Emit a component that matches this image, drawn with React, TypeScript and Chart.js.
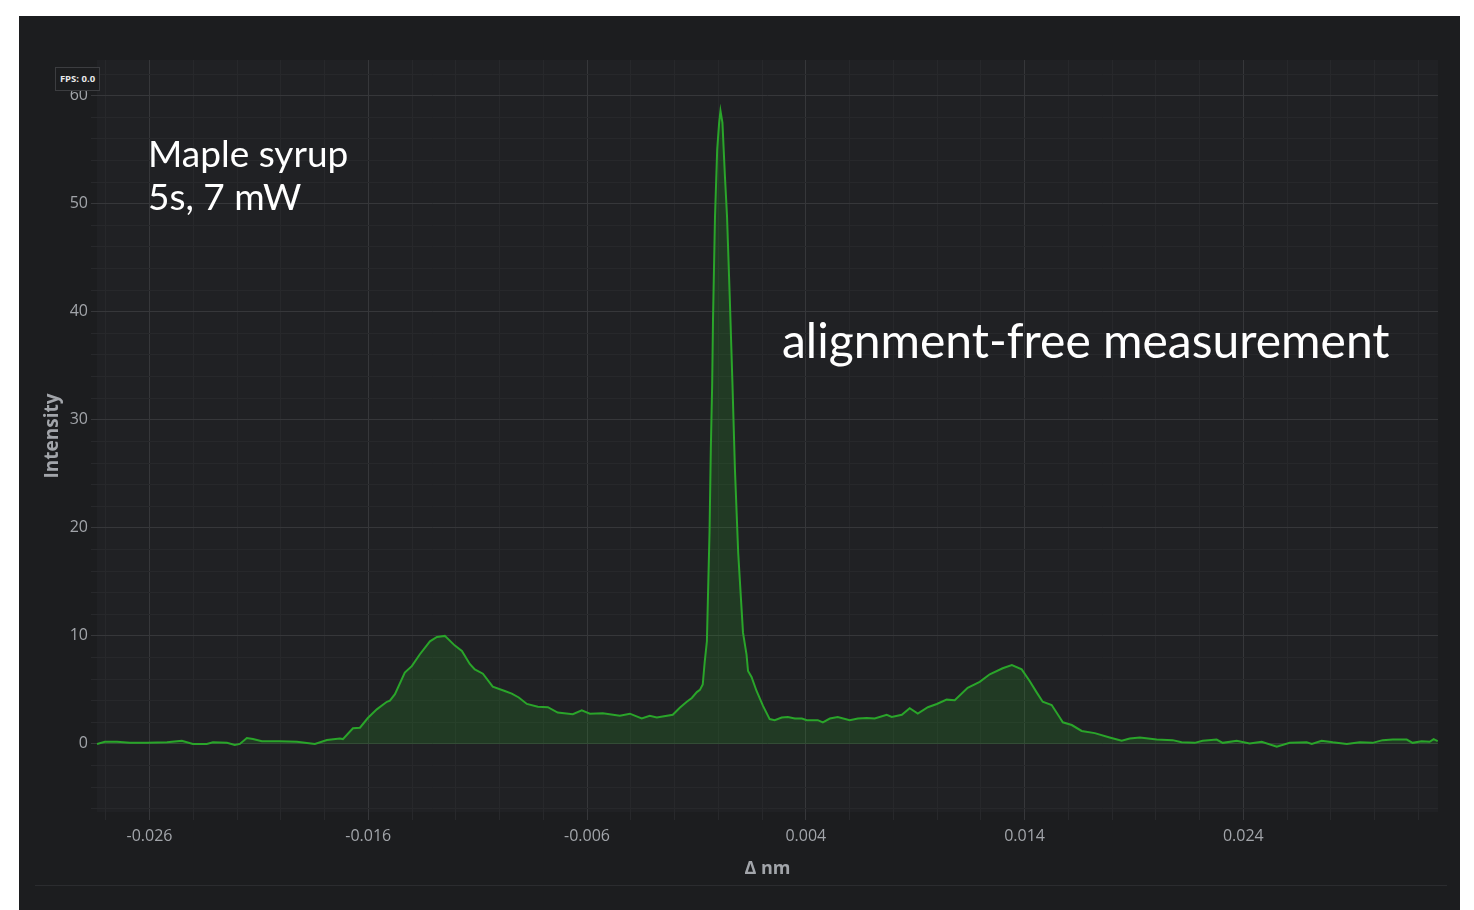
import React, { useEffect, useRef } from "react";
import { Chart, registerables } from "chart.js";

Chart.register(...registerables);

// Δ nm positions of the sampled spectrum
const deltaNm: number[] = [
  -0.0284, -0.02804, -0.02749, -0.0269, -0.02612, -0.0252, -0.02452, -0.02402, -0.02338, -0.0231,
  -0.02246, -0.0221, -0.02187, -0.02155, -0.02127, -0.02086, -0.02004, -0.01926, -0.01844, -0.01789,
  -0.0173, -0.01716, -0.0167, -0.01638, -0.01602, -0.01561, -0.01515, -0.01501, -0.01478, -0.01433,
  -0.01401, -0.01364, -0.01318, -0.01286, -0.0125, -0.01204, -0.01172, -0.01136, -0.01113, -0.01076,
  -0.01031, -0.00976, -0.00944, -0.00912, -0.00875, -0.00825, -0.00779, -0.00734, -0.00665, -0.00624,
  -0.00587, -0.00528, -0.0045, -0.00404, -0.0035, -0.00313, -0.00281, -0.00208, -0.00176, -0.00144,
  -0.00121, -0.00098, -0.00084, -0.00071, -0.00062, -0.00052, -0.00047, -0.0004, -0.00034, -0.00028,
  -0.00024, -0.00015, -0.00005, 0.00004, 0.0001, 0.00019, 0.0003, 0.0004, 0.00053, 0.00065,
  0.00076, 0.00091, 0.00113, 0.00129, 0.00136, 0.00152, 0.00175, 0.00205, 0.00235, 0.00258,
  0.0029, 0.00318, 0.0035, 0.00382, 0.00405, 0.00455, 0.00478, 0.0051, 0.00546, 0.00601,
  0.00638, 0.00679, 0.00715, 0.0077, 0.00793, 0.00839, 0.00875, 0.00912, 0.00958, 0.00999,
  0.01044, 0.01081, 0.0114, 0.01195, 0.01241, 0.013, 0.01342, 0.01387, 0.01424, 0.01456,
  0.01483, 0.01524, 0.01561, 0.01575, 0.01616, 0.01661, 0.01721, 0.01789, 0.01844, 0.01881,
  0.01927, 0.02004, 0.02077, 0.02118, 0.02178, 0.02214, 0.02278, 0.02306, 0.0237, 0.02429,
  0.02484, 0.02553, 0.02612, 0.0269, 0.02713, 0.02758, 0.02809, 0.02873, 0.02932, 0.02991,
  0.03037, 0.03083, 0.03147, 0.03174, 0.03215, 0.03252, 0.0327, 0.03289,
];

// Intensity at each position
const intensity: number[] = [
  0.0, 0.2, 0.2, 0.1, 0.1, 0.15, 0.3, 0.0, 0.0, 0.15,
  0.1, -0.1, 0.0, 0.55, 0.45, 0.25, 0.25, 0.2, 0.0, 0.37,
  0.5, 0.45, 1.45, 1.5, 2.4, 3.2, 3.9, 4.0, 4.6, 6.6,
  7.2, 8.3, 9.5, 9.9, 10.0, 9.1, 8.6, 7.4, 6.9, 6.5,
  5.3, 4.9, 4.65, 4.3, 3.7, 3.45, 3.4, 2.9, 2.75, 3.1,
  2.8, 2.85, 2.6, 2.8, 2.35, 2.6, 2.45, 2.7, 3.35, 3.9,
  4.25, 4.8, 5.0, 5.5, 7.6, 9.5, 13.8, 19.6, 27.4, 33.2,
  39.4, 48.8, 55.0, 57.5, 58.6, 57.5, 52.7, 48.8, 41.0, 33.2,
  25.5, 17.7, 10.3, 8.3, 6.75, 6.2, 4.9, 3.5, 2.3, 2.2,
  2.45, 2.5, 2.35, 2.35, 2.2, 2.2, 2.0, 2.35, 2.5, 2.2,
  2.35, 2.4, 2.35, 2.7, 2.5, 2.7, 3.3, 2.8, 3.4, 3.7,
  4.1, 4.05, 5.2, 5.75, 6.45, 7.0, 7.3, 6.9, 5.8, 4.75,
  3.9, 3.6, 2.45, 2.0, 1.75, 1.2, 1.0, 0.6, 0.3, 0.5,
  0.6, 0.4, 0.35, 0.15, 0.1, 0.3, 0.4, 0.1, 0.3, 0.05,
  0.2, -0.25, 0.1, 0.15, 0.0, 0.3, 0.15, 0.0, 0.15, 0.1,
  0.35, 0.4, 0.4, 0.1, 0.25, 0.2, 0.45, 0.25,
];

// Axis tick positions (every tick gets a grid line; only majors get labels)
const xTickSteps: number[] = Array.from({ length: 31 }, (_, i) => i - 14); // k * 0.002
const yTickValues: number[] = [-6, -4, -2, 0, 2, 4, 6, 8, 10, 12, 14, 16, 18, 20, 22, 24, 26, 28, 30, 32, 34, 36, 38, 40, 42, 44, 46, 48, 50, 52, 54, 56, 58, 60, 62];

const X_MIN = -0.0284;
const X_MAX = 0.0329;
const Y_MIN = -6.3;
const Y_MAX = 63.3;

const PANEL_BG = "#1c1d1f";
const PLOT_BG = "#202124";
const MAJOR_GRID = "#36373a";
const MINOR_GRID = "#27282b";
const TICK_COLOR = "#a2a5aa";

const isMajorX = (v: number) => {
  const k = Math.round(v * 500);
  return (((k + 13) % 5) + 5) % 5 === 0;
};
const isMajorY = (v: number) => Math.round(v) % 10 === 0;

const plotBg = {
  id: "plotBg",
  beforeDraw(chart: any) {
    const { ctx, chartArea } = chart;
    if (!chartArea) return;
    ctx.save();
    ctx.fillStyle = PLOT_BG;
    ctx.fillRect(chartArea.left, chartArea.top, chartArea.right - chartArea.left, chartArea.bottom - chartArea.top);
    ctx.restore();
  },
};

export default function App() {
  const canvasRef = useRef<HTMLCanvasElement | null>(null);

  useEffect(() => {
    if (!canvasRef.current) return;
    const points = deltaNm.map((x, i) => ({ x, y: intensity[i] }));
    const chart = new Chart(canvasRef.current, {
      type: "line",
      data: {
        datasets: [
          {
            data: points,
            borderColor: "#2aa52a",
            borderWidth: 2,
            backgroundColor: "rgba(40,160,40,0.2)",
            fill: "origin",
            pointRadius: 0,
            tension: 0,
          },
        ],
      },
      plugins: [plotBg],
      options: {
        responsive: false,
        animation: false,
        parsing: false as any,
        layout: { padding: { left: 0, right: 22, top: 44, bottom: 0 } },
        plugins: { legend: { display: false }, tooltip: { enabled: false } },
        scales: {
          x: {
            type: "linear",
            min: X_MIN,
            max: X_MAX,
            afterBuildTicks: (scale: any) => {
              scale.ticks = xTickSteps.map((k) => ({ value: k / 500 }));
            },
            afterFit: (scale: any) => {
              scale.height = 98;
            },
            ticks: {
              autoSkip: false,
              maxRotation: 0,
              color: TICK_COLOR,
              padding: 7,
              font: { family: "'Open Sans'", size: 16 },
              callback: (v: any) => (isMajorX(Number(v)) ? (Math.round(Number(v) * 1000) / 1000).toFixed(3) : ""),
            },
            grid: {
              color: (c: any) => (c.tick && isMajorX(c.tick.value) ? MAJOR_GRID : MINOR_GRID),
              lineWidth: 1,
              tickLength: 8,
              drawTicks: true,
            },
            border: { display: false },
            title: {
              display: true,
              text: "Δ nm",
              color: TICK_COLOR,
              font: { family: "'Open Sans'", size: 18, weight: "bold" },
              padding: { top: 0, bottom: 30 },
            },
          },
          y: {
            type: "linear",
            min: Y_MIN,
            max: Y_MAX,
            afterBuildTicks: (scale: any) => {
              scale.ticks = yTickValues.map((v) => ({ value: v }));
            },
            afterFit: (scale: any) => {
              scale.width = 78;
            },
            ticks: {
              autoSkip: false,
              color: TICK_COLOR,
              padding: 3,
              font: { family: "'Open Sans'", size: 16 },
              callback: (v: any) => (isMajorY(Number(v)) ? String(Math.round(Number(v))) : ""),
            },
            grid: {
              color: (c: any) => (c.tick && isMajorY(c.tick.value) ? MAJOR_GRID : MINOR_GRID),
              lineWidth: 1,
              tickLength: 6,
              drawTicks: true,
            },
            border: { display: false },
            title: {
              display: true,
              text: "Intensity",
              color: TICK_COLOR,
              font: { family: "'Open Sans'", size: 19, weight: "bold" },
              padding: { top: 22, bottom: 0 },
            },
          },
        },
      } as any,
    });
    return () => chart.destroy();
  }, []);

  return (
    <div style={{ position: "fixed", inset: 0, background: "#ffffff", overflow: "hidden" }}>
      <div
        style={{
          position: "absolute",
          left: 19,
          top: 16,
          width: 1441,
          height: 894,
          background: PANEL_BG,
        }}
      >
        <canvas ref={canvasRef} width={1441} height={894} style={{ width: 1441, height: 894, display: "block" }} />
        <div
          style={{
            position: "absolute",
            left: 16,
            top: 869,
            width: 1412,
            height: 1,
            background: "#2b2c2f",
          }}
        />
        <div
          style={{
            position: "absolute",
            left: 36,
            top: 51,
            width: 45,
            height: 24,
            boxSizing: "border-box",
            border: "1px solid #3c3d40",
            background: PANEL_BG,
            color: "#e8e8e8",
            fontFamily: "'Open Sans', sans-serif",
            fontWeight: 700,
            fontSize: 9.5,
            lineHeight: "22px",
            textAlign: "center",
            whiteSpace: "nowrap",
          }}
        >
          FPS: 0.0
        </div>
        <div
          style={{
            position: "absolute",
            left: 129,
            top: 115,
            color: "#ffffff",
            fontFamily: "Lato, sans-serif",
            fontSize: 37,
            lineHeight: "43.3px",
            whiteSpace: "nowrap",
          }}
        >
          Maple syrup
          <br />
          5s, 7 mW
        </div>
        <div
          style={{
            position: "absolute",
            left: 763,
            top: 295,
            color: "#ffffff",
            fontFamily: "Lato, sans-serif",
            fontSize: 48,
            lineHeight: "57.6px",
            whiteSpace: "nowrap",
          }}
        >
          alignment-free measurement
        </div>
      </div>
    </div>
  );
}
